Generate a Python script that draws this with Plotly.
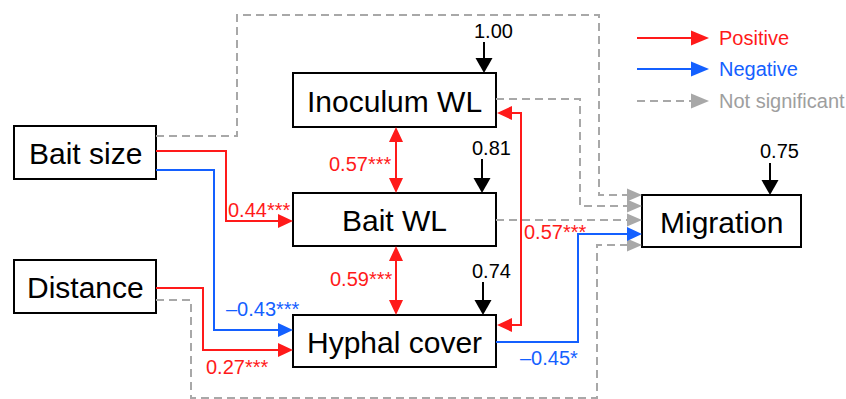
import plotly.graph_objects as go

# ---- data ----
node_names = ["Bait size", "Distance", "Inoculum WL", "Bait WL", "Hyphal cover", "Migration"]
path_coefs = ["0.44***", "–0.43***", "0.27***", "–0.45*"]
corr_coefs = ["0.57***", "0.59***", "0.57***"]
residuals = ["1.00", "0.81", "0.74", "0.75"]
legend_labels = ["Positive", "Negative", "Not significant"]

RED = "#ff1a1a"
BLUE = "#1460ff"
GRAY = "#a8a8a8"
BLACK = "#000000"
FONT = "Liberation Sans, Arial, sans-serif"

# ---- layout geometry (pixels, y downward) ----
boxes = {
    "Bait size": (14, 126, 156, 179),
    "Distance": (14, 260, 156, 313),
    "Inoculum WL": (293, 73, 496, 127),
    "Bait WL": (293, 193, 496, 246),
    "Hyphal cover": (293, 315, 496, 367),
    "Migration": (642, 195, 801, 247),
}

shapes = []
annotations = []


def polyline(pts, color, dash=None, width=2):
    d = "M " + " L ".join(f"{x},{y}" for x, y in pts)
    shapes.append(dict(type="path", path=d, line=dict(color=color, width=width, dash=dash),
                       xref="x", yref="y", layer="above"))


def head(tip, direction, color, length=15, half=7):
    x, y = tip
    dx, dy = {"r": (1, 0), "l": (-1, 0), "u": (0, -1), "d": (0, 1)}[direction]
    bx, by = x - dx * length, y - dy * length
    px, py = -dy * half, dx * half
    d = f"M {x},{y} L {bx+px},{by+py} L {bx-px},{by-py} Z"
    shapes.append(dict(type="path", path=d, fillcolor=color, line=dict(color=color, width=0),
                       xref="x", yref="y", layer="above"))
    return (bx, by)


def arrow(pts, color, dash=None, length=15, half=7, double=False):
    pts = list(pts)
    tip = pts[-1]
    prev = pts[-2]
    dirn = ("r" if tip[0] > prev[0] else "l") if tip[1] == prev[1] else ("d" if tip[1] > prev[1] else "u")
    base = head(tip, dirn, color, length, half)
    pts[-1] = base
    if double:
        t0, p0 = pts[0], pts[1]
        d0 = ("r" if t0[0] > p0[0] else "l") if t0[1] == p0[1] else ("d" if t0[1] > p0[1] else "u")
        pts[0] = head(t0, d0, color, length, half)
    polyline(pts, color, dash)


# boxes
for name in node_names:
    x0, y0, x1, y1 = boxes[name]
    shapes.append(dict(type="rect", x0=x0, y0=y0, x1=x1, y1=y1, line=dict(color=BLACK, width=2),
                       fillcolor="white", xref="x", yref="y", layer="below"))
    annotations.append(dict(x=(x0 + x1) / 2, y=(y0 + y1) / 2 + 1, text=name, showarrow=False,
                            font=dict(family=FONT, size=30, color=BLACK), xanchor="center", yanchor="middle"))

DASH = "8px,5px"
# not significant paths to Migration
arrow([(156, 136), (237, 136), (237, 15), (599, 15), (599, 195), (642, 195)], GRAY, DASH, 15, 6.5)
arrow([(496, 99), (580, 99), (580, 206), (642, 206)], GRAY, DASH, 15, 6.5)
arrow([(496, 220), (642, 220)], GRAY, DASH, 15, 6.5)
arrow([(156, 300), (191, 300), (191, 398), (597, 398), (597, 245), (642, 245)], GRAY, DASH, 15, 6.5)
# significant paths
arrow([(496, 342), (578, 342), (578, 234), (642, 234)], BLUE)
arrow([(156, 151), (226, 151), (226, 221), (293, 221)], RED)
arrow([(156, 170), (214, 170), (214, 330), (293, 330)], BLUE)
arrow([(156, 288), (203, 288), (203, 350), (293, 350)], RED)
# correlations
arrow([(497, 113), (521, 113), (521, 325), (497, 325)], RED, double=True)
arrow([(396, 127), (396, 193)], RED, double=True)
arrow([(396, 246), (396, 315)], RED, double=True)
# residual arrows
arrow([(484, 42), (484, 73)], BLACK, None, 15, 8.5)
arrow([(482, 159), (482, 193)], BLACK, None, 15, 8.5)
arrow([(483, 282), (483, 315)], BLACK, None, 15, 8.5)
arrow([(770, 163), (770, 195)], BLACK, None, 15, 8.5)

# labels
def label(x, y, text, color):
    annotations.append(dict(x=x, y=y, text=text, showarrow=False, xanchor="center", yanchor="middle",
                            font=dict(family=FONT, size=20, color=color)))

label(493, 31, residuals[0], BLACK)
label(491, 148, residuals[1], BLACK)
label(491, 271, residuals[2], BLACK)
label(779, 151, residuals[3], BLACK)

label(259, 210, path_coefs[0], RED)
label(263, 309, path_coefs[1], BLUE)
label(237, 367, path_coefs[2], RED)
label(549, 358, path_coefs[3], BLUE)

label(360, 164, corr_coefs[0], RED)
label(361, 279, corr_coefs[1], RED)
label(555, 232, corr_coefs[2], RED)

# legend
leg_colors = [RED, BLUE, GRAY]
leg_y = [38, 69, 101]
leg_text_colors = [RED, BLUE, "#9e9e9e"]
for lab, c, y, tc, dsh in zip(legend_labels, leg_colors, leg_y, leg_text_colors, [None, None, DASH]):
    arrow([(637, y), (709, y)], c, dsh, 18, 7.5)
    annotations.append(dict(x=717, y=y, text=lab, showarrow=False, xanchor="left", yanchor="middle",
                            font=dict(family=FONT, size=20, color=tc)))

fig = go.Figure()
fig.update_layout(
    width=846, height=399, autosize=False,
    margin=dict(l=0, r=0, t=0, b=0),
    paper_bgcolor="white", plot_bgcolor="white",
    xaxis=dict(range=[0, 846], visible=False, fixedrange=True),
    yaxis=dict(range=[399, 0], visible=False, fixedrange=True),
    shapes=shapes, annotations=annotations, showlegend=False,
)
fig.write_html("out.html", config={"displayModeBar": False})
